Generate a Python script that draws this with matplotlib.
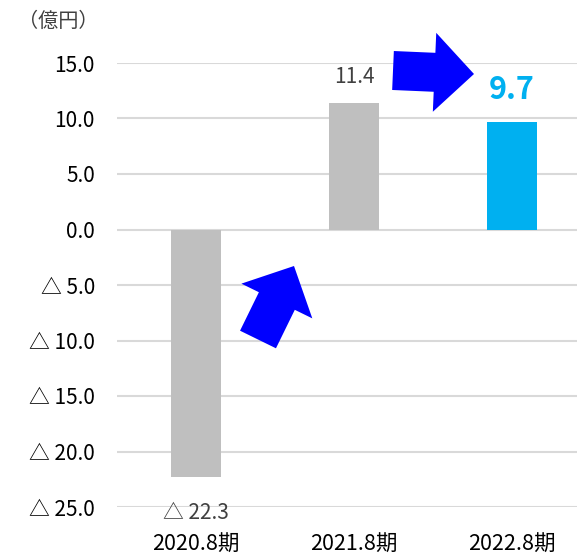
import matplotlib
matplotlib.use("Agg")
import matplotlib.pyplot as plt
from matplotlib.patches import Polygon
import numpy as np

plt.rcParams['font.family'] = ['Noto Sans CJK JP', 'DejaVu Sans']

categories = ["2020.8期", "2021.8期", "2022.8期"]
values = [-22.3, 11.4, 9.7]
bar_colors = ["#BFBFBF", "#BFBFBF", "#00B0F0"]
label_texts = ["△ 22.3", "11.4", "9.7"]
yticks = [15, 10, 5, 0, -5, -10, -15, -20, -25]
ytick_labels = ["15.0", "10.0", "5.0", "0.0", "△ 5.0", "△ 10.0", "△ 15.0", "△ 20.0", "△ 25.0"]
unit_label = "（億円）"

W, H = 577, 556
fig = plt.figure(figsize=(W / 100, H / 100), dpi=100)
ax = fig.add_axes([117 / W, (H - 507) / H, (591 - 117) / W, (507 - 63) / H])

x = np.arange(len(categories))
ax.bar(x, values, width=0.316, color=bar_colors, zorder=2)
ax.set_xlim(-0.5, 2.5)
ax.set_ylim(-25, 15)
ax.set_yticks(yticks)
ax.set_yticklabels(ytick_labels, fontsize=15, color="#000000")
ax.set_xticks(x)
ax.set_xticklabels(categories, fontsize=15.5, color="#000000")
ax.tick_params(axis='y', length=0, pad=16)
ax.tick_params(axis='x', length=0, pad=0)
for lab in ax.get_xticklabels():
    lab.set_y(-0.06)
for s in ax.spines.values():
    s.set_visible(False)
ax.grid(axis='y', color="#D9D9D9", linewidth=1.5, zorder=0)
ax.set_axisbelow(True)

# data labels
ax.annotate(label_texts[0], (x[0], values[0]), xytext=(0, -26), textcoords='offset points',
            ha='center', va='center', fontsize=15, color="#404040")
ax.annotate(label_texts[1], (x[1], values[1]), xytext=(0, 19), textcoords='offset points',
            ha='center', va='center', fontsize=15, color="#404040")
ax.annotate(label_texts[2], (x[2], values[2]), xytext=(0, 23), textcoords='offset points',
            ha='center', va='center', fontsize=22, fontweight='bold', color="#00B0F0")

fig.text(18 / W, 1 - 21 / H, unit_label, fontsize=14.5, color="#404040", ha='left', va='center')


def block_arrow(tail, tip, shaft_w, head_w, head_len):
    tail = np.array(tail, float)
    tip = np.array(tip, float)
    d = tip - tail
    L = np.linalg.norm(d)
    u = d / L
    n = np.array([-u[1], u[0]])
    base = tip - u * head_len
    pts = [tail + n * shaft_w / 2, base + n * shaft_w / 2, base + n * head_w / 2, tip,
           base - n * head_w / 2, base - n * shaft_w / 2, tail - n * shaft_w / 2]
    pts = [(p[0] / W, 1 - p[1] / H) for p in pts]
    fig.patches.append(Polygon(pts, closed=True, facecolor="#0000FF", edgecolor="none",
                               transform=fig.transFigure, zorder=5))


block_arrow((258, 339.5), (294, 266), 40, 79, 39)
block_arrow((393, 70.5), (474, 74), 39, 79, 39.5)

fig.savefig("out.png", dpi=100)
